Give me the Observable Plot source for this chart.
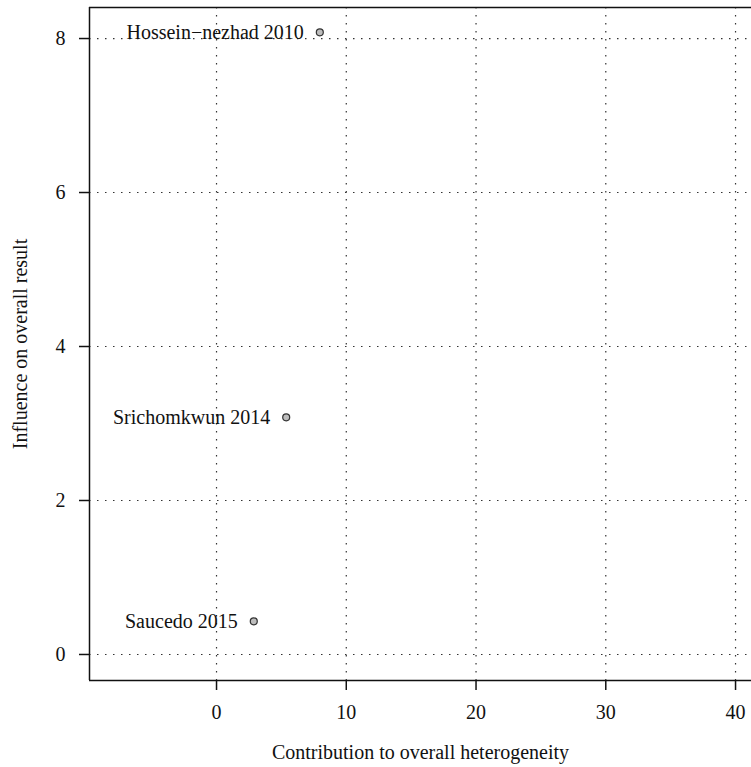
<!DOCTYPE html>
<html><head><meta charset="utf-8">
<script src="https://cdn.jsdelivr.net/npm/d3@7"></script>
<script src="https://cdn.jsdelivr.net/npm/@observablehq/plot@0.6"></script>
<style>body{margin:0;overflow:hidden;background:#fff}</style>
</head><body><div id="chart"></div>
<script>
const studies = ["Hossein\u2212nezhad 2010", "Srichomkwun 2014", "Saucedo 2015"];
const heterogeneity = [7.96, 5.37, 2.87];
const influence = [8.08, 3.08, 0.43];
const xTicks = [0, 10, 20, 30, 40];
const yTicks = [0, 2, 4, 6, 8];
const xDomain = [-9.79, 41.23];
const yDomain = [-0.338, 8.403];
const data = studies.map((s, i) => ({study: s, x: heterogeneity[i], y: influence[i]}));
const font = "'Liberation Serif', 'DejaVu Serif', serif";
const grid = {stroke: "#333", strokeDasharray: "1.5,6.5", strokeWidth: 1.2};
const chart = Plot.plot({
  width: 751, height: 767,
  marginLeft: 89, marginRight: 0, marginTop: 7, marginBottom: 87,
  style: {fontFamily: font, fontSize: "20px", color: "#111", background: "#fff"},
  x: {domain: xDomain},
  y: {domain: yDomain},
  marks: [
    Plot.ruleX(xTicks, grid),
    Plot.ruleY(yTicks, grid),
    Plot.ruleY(yDomain, {stroke: "#111", strokeWidth: 1.5}),
    Plot.ruleX([xDomain[0]], {stroke: "#111", strokeWidth: 1.5}),
    Plot.axisX({ticks: xTicks, tickSize: 10, tickPadding: 14, strokeWidth: 1.5, fontSize: 20,
      label: "Contribution to overall heterogeneity", labelAnchor: "center", labelOffset: 78, labelArrow: "none"}),
    Plot.axisY({ticks: yTicks, tickSize: 10, tickPadding: 14, strokeWidth: 1.5, fontSize: 20,
      label: "Influence on overall result", labelAnchor: "center", labelOffset: 77, labelArrow: "none"}),
    Plot.dot(data, {x: "x", y: "y", r: 3.5, fill: "#bdbdbd", stroke: "#333", strokeWidth: 1.2}),
    Plot.text(data, {x: "x", y: "y", text: "study", textAnchor: "end", dx: -16, fontSize: 20, fill: "#111"})
  ]
});
document.getElementById("chart").appendChild(chart);
</script>
</body></html>
